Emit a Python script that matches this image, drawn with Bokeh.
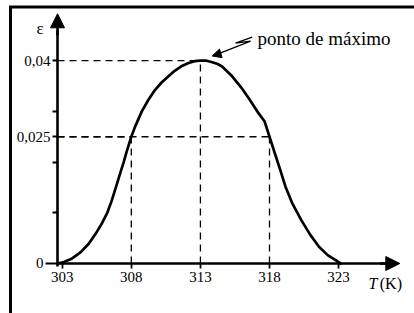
from bokeh.plotting import figure
from bokeh.models import (Range1d, LinearAxis, FixedTicker, Arrow, NormalHead,
                          Label, ColumnDataSource)
from bokeh.embed import file_html
from bokeh.resources import INLINE

# ---- data ----
temp_ticks = [303, 308, 313, 318, 323]
eps_ticks = [0.01, 0.02, 0.025, 0.03, 0.04]
eps_labels = {0.01: "", 0.02: "", 0.025: "0,025", 0.03: "", 0.04: "0,04"}

curve_T = [302.66, 303.13, 303.72, 304.32, 304.92, 305.45, 305.89, 306.26, 306.56,
           306.86, 307.16, 307.46, 307.68, 308.0, 308.26, 308.76, 309.24, 309.71,
           310.19, 310.67, 311.14, 311.62, 312.10, 312.57, 313.0, 313.45, 313.86,
           314.2, 314.55, 315.24, 315.93, 316.50, 317.19, 317.65, 318.0, 318.38,
           318.77, 319.15, 319.66, 320.31, 320.94, 321.58, 322.23, 322.87, 323.15]
curve_eps = [0.0, 0.0003, 0.0010, 0.0022, 0.0039, 0.0060, 0.0080, 0.0100, 0.0122,
             0.0148, 0.0175, 0.0201, 0.0222, 0.0250, 0.0269, 0.0300, 0.0323, 0.0342,
             0.0357, 0.0369, 0.0380, 0.0389, 0.0395, 0.0399, 0.0400, 0.0400, 0.0397,
             0.0394, 0.0389, 0.0371, 0.0348, 0.0326, 0.0297, 0.0280, 0.0250, 0.0218,
             0.0185, 0.0152, 0.0118, 0.0085, 0.0057, 0.0033, 0.0016, 0.0005, 0.0]

# guide points (T, eps)
guide_T = [308, 313, 318]
guide_eps = [0.025, 0.04, 0.025]

FONT = "Liberation Serif"
Y_AXIS_T = 302.66
X0, X1 = 298.535, 328.492
Y0, Y1 = -0.009862, 0.051874

p = figure(width=414, height=313, x_range=Range1d(X0, X1), y_range=Range1d(Y0, Y1),
           min_border=0, x_axis_location=None, y_axis_location=None,
           toolbar_location=None, output_backend="svg")
p.outline_line_color = None
p.xgrid.visible = False
p.ygrid.visible = False
p.background_fill_color = "white"
p.border_fill_color = "white"

# frame borders (left and top of enclosing box)
p.line([299.26, 299.26, X1 + 1], [Y0 - 0.002, 0.050592, 0.050592],
       line_color="black", line_width=3, line_join="miter")

# dashed guides
src = ColumnDataSource(dict(
    x0=[Y_AXIS_T] * 3 + guide_T,
    y0=guide_eps + [0, 0, 0],
    x1=guide_T + guide_T,
    y1=guide_eps + guide_eps,
))
p.segment("x0", "y0", "x1", "y1", source=src, line_color="black", line_width=1.3,
          line_dash="7 5")

# curve
p.line(curve_T, curve_eps, line_color="black", line_width=2.7, line_join="round",
       line_cap="round")

# x axis
xa = LinearAxis(fixed_location=0, ticker=FixedTicker(ticks=temp_ticks),
                bounds=(Y_AXIS_T, 326.6))
xa.axis_line_width = 2.6
xa.major_tick_line_width = 1.8
xa.major_tick_out = 5
xa.major_tick_in = 0
xa.minor_tick_line_color = None
xa.major_label_standoff = 4
xa.major_label_text_font = FONT
xa.major_label_text_font_size = "15px"
xa.major_label_text_color = "black"
p.add_layout(xa, "below")

# y axis
ya = LinearAxis(fixed_location=Y_AXIS_T, ticker=FixedTicker(ticks=eps_ticks),
                bounds=(-0.0006, 0.046))
ya.major_label_overrides = eps_labels
ya.axis_line_width = 2.6
ya.major_tick_line_width = 1.8
ya.major_tick_out = 5
ya.major_tick_in = 0
ya.minor_tick_line_color = None
ya.major_label_standoff = 2
ya.major_label_text_font = FONT
ya.major_label_text_font_size = "15px"
ya.major_label_text_color = "black"
p.add_layout(ya, "left")

# zero tick of y axis (longer)
ya0 = LinearAxis(fixed_location=Y_AXIS_T, ticker=FixedTicker(ticks=[0]),
                 bounds=(0, 0))
ya0.axis_line_color = None
ya0.major_tick_line_width = 1.8
ya0.major_tick_out = 12
ya0.major_tick_in = 0
ya0.minor_tick_line_color = None
ya0.major_label_standoff = 2
ya0.major_label_text_font = FONT
ya0.major_label_text_font_size = "15px"
ya0.major_label_text_color = "black"
p.add_layout(ya0, "left")

# axis arrows
p.add_layout(Arrow(x_start=Y_AXIS_T, y_start=0.045, x_end=Y_AXIS_T, y_end=0.04925,
                   line_width=2.6, end=NormalHead(size=14, fill_color="black",
                                                  line_color="black", line_width=1)))
p.add_layout(Arrow(x_start=326.0, y_start=0, x_end=327.43, y_end=0,
                   line_width=2.6, end=NormalHead(size=14, fill_color="black",
                                                  line_color="black", line_width=1)))

# axis titles
p.add_layout(Label(x=301.14, y=0.04629, text="ε", text_font=FONT,
                   text_font_size="17px", text_color="black", text_baseline="alphabetic"))
p.add_layout(Label(x=325.16, y=-0.00386, text="T", text_font=FONT,
                   text_font_style="italic", text_font_size="16px", text_color="black",
                   text_baseline="alphabetic"))
p.add_layout(Label(x=325.98, y=-0.00386, text="(K)", text_font=FONT,
                   text_font_size="16px", text_color="black", text_baseline="alphabetic"))

# annotation
p.line([316.75, 315.54, 316.63, 314.2], [0.04464, 0.04345, 0.04385, 0.04125],
       line_color="black", line_width=1.3)
p.add_layout(Arrow(x_start=314.3, y_start=0.04130, x_end=313.854, y_end=0.04093,
                   line_width=1.3, end=NormalHead(size=9, fill_color="black",
                                                 line_color="black", line_width=1)))
p.add_layout(Label(x=317.13, y=0.04444, text="ponto de máximo", text_font=FONT,
                   text_font_size="19px", text_color="black", text_baseline="alphabetic"))

open("out.html", "w").write(file_html(p, INLINE))
